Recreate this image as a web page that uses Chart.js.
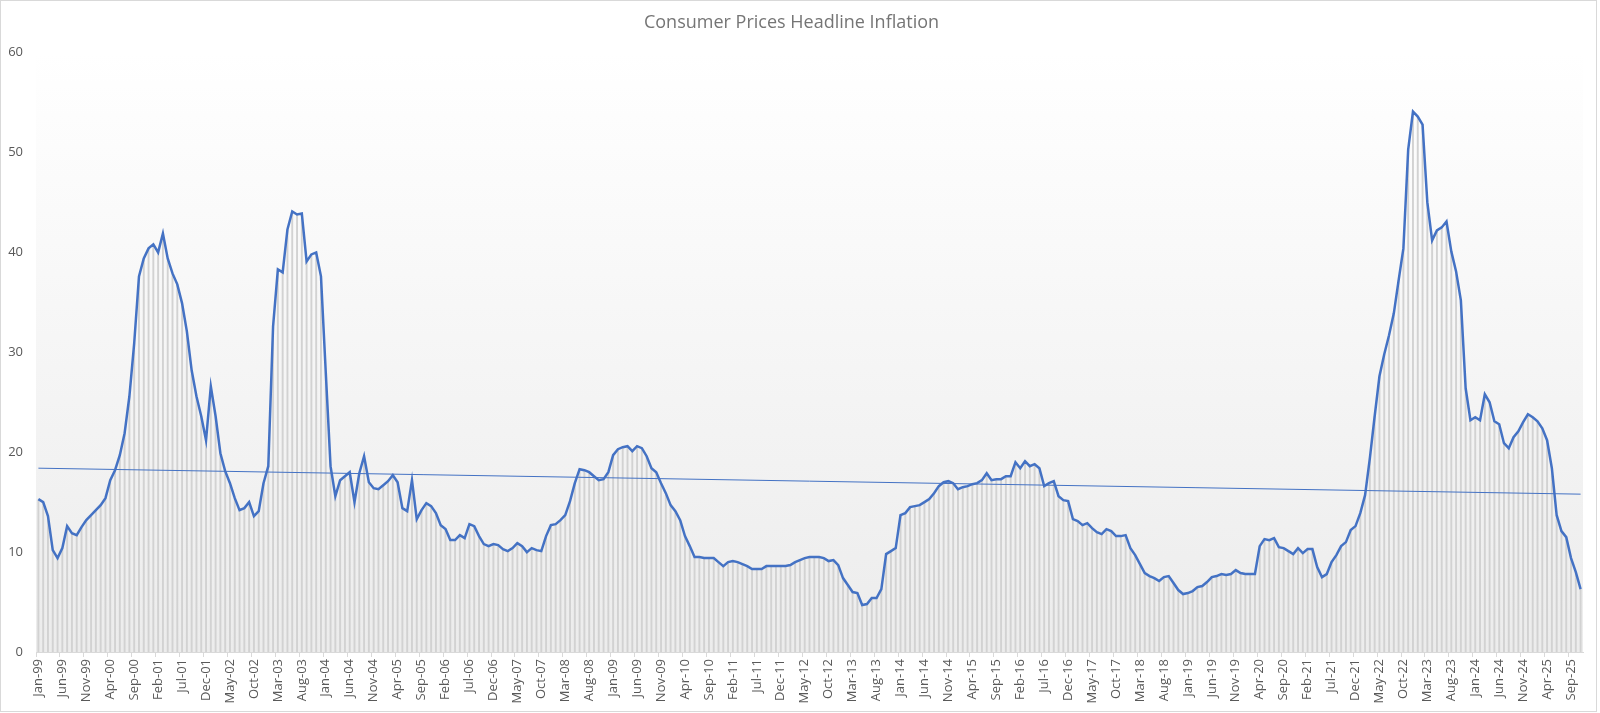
<!DOCTYPE html>
<html>
<head>
<meta charset="utf-8">
<title>Consumer Prices Headline Inflation</title>
<script src="https://cdn.jsdelivr.net/npm/chart.js@4.4.1/dist/chart.umd.min.js"></script>
<style>
  html, body { margin: 0; padding: 0; background: #ffffff; }
  #wrap { position: relative; width: 1600px; height: 713px; }
</style>
</head>
<body>
<div id="wrap"><canvas id="inflationChart"></canvas></div>
<script>
// month names and year range used to build the category labels (Jan-99 ... Nov-25)
const monthNames = ['Jan', 'Feb', 'Mar', 'Apr', 'May', 'Jun', 'Jul', 'Aug', 'Sep', 'Oct', 'Nov', 'Dec'];
const firstYear = 1999;
const lastYear = 2025;
const lastMonth = 11; // Nov-25 is the last reading

// headline inflation, % y/y, one row per year
const inflation = [
  15.3, 15.0, 13.6, 10.2, 9.4, 10.4, 12.6, 11.9, 11.7, 12.5, 13.2, 13.7,   // 1999
  14.2, 14.7, 15.4, 17.2, 18.2, 19.7, 21.9, 25.6, 30.9, 37.6, 39.4, 40.4,  // 2000
  40.8, 40.0, 41.9, 39.4, 37.9, 36.8, 34.9, 32.1, 28.2, 25.6, 23.6, 21.2,  // 2001
  26.6, 23.6, 19.9, 18.1, 16.9, 15.4, 14.2, 14.4, 15.0, 13.6, 14.1, 16.9,  // 2002
  18.6, 32.6, 38.3, 38.0, 42.3, 44.1, 43.8, 43.9, 39.1, 39.8, 40.0, 37.6,  // 2003
  28.0, 18.6, 15.6, 17.2, 17.6, 18.0, 15.0, 17.9, 19.6, 17.0, 16.4, 16.3,  // 2004
  16.7, 17.1, 17.7, 17.0, 14.4, 14.1, 17.2, 13.3, 14.2, 14.9, 14.6, 13.9,  // 2005
  12.7, 12.3, 11.2, 11.2, 11.7, 11.4, 12.8, 12.6, 11.6, 10.8, 10.6, 10.8,  // 2006
  10.7, 10.3, 10.1, 10.4, 10.9, 10.6, 10.0, 10.4, 10.2, 10.1, 11.6, 12.7,  // 2007
  12.8, 13.2, 13.7, 15.1, 16.9, 18.3, 18.2, 18.0, 17.6, 17.2, 17.3, 18.0,  // 2008
  19.7, 20.3, 20.5, 20.6, 20.1, 20.6, 20.4, 19.6, 18.4, 18.0, 16.9, 15.9,  // 2009
  14.7, 14.1, 13.2, 11.6, 10.6, 9.5, 9.5, 9.4, 9.4, 9.4, 9.0, 8.6,         // 2010
  9.0, 9.1, 9.0, 8.8, 8.6, 8.3, 8.3, 8.3, 8.6, 8.6, 8.6, 8.6,              // 2011
  8.6, 8.7, 9.0, 9.2, 9.4, 9.5, 9.5, 9.5, 9.4, 9.1, 9.2, 8.7,              // 2012
  7.4, 6.7, 6.0, 5.9, 4.7, 4.8, 5.4, 5.4, 6.3, 9.8, 10.1, 10.4,            // 2013
  13.7, 13.9, 14.5, 14.6, 14.7, 15.0, 15.3, 15.9, 16.6, 17.0, 17.1, 16.9,  // 2014
  16.3, 16.5, 16.6, 16.8, 16.9, 17.2, 17.9, 17.2, 17.3, 17.3, 17.6, 17.6,  // 2015
  19.0, 18.4, 19.1, 18.6, 18.8, 18.4, 16.6, 16.9, 17.1, 15.6, 15.2, 15.1,  // 2016
  13.3, 13.1, 12.7, 12.9, 12.4, 12.0, 11.8, 12.3, 12.1, 11.6, 11.6, 11.7,  // 2017
  10.4, 9.7, 8.8, 7.9, 7.6, 7.4, 7.1, 7.5, 7.6, 6.9, 6.2, 5.8,             // 2018
  5.9, 6.1, 6.5, 6.6, 7.0, 7.5, 7.6, 7.8, 7.7, 7.8, 8.2, 7.9,              // 2019
  7.8, 7.8, 7.8, 10.6, 11.3, 11.2, 11.4, 10.5, 10.4, 10.1, 9.8, 10.4,      // 2020
  9.9, 10.3, 10.3, 8.5, 7.5, 7.8, 9.0, 9.7, 10.6, 11.0, 12.2, 12.6,        // 2021
  13.9, 15.7, 19.4, 23.6, 27.6, 29.8, 31.7, 33.9, 37.2, 40.4, 50.3, 54.1,  // 2022
  53.6, 52.8, 45.0, 41.2, 42.2, 42.5, 43.1, 40.1, 38.1, 35.2, 26.4, 23.2,  // 2023
  23.5, 23.2, 25.8, 25.0, 23.1, 22.8, 20.9, 20.4, 21.5, 22.1, 23.0, 23.8,  // 2024
  23.5, 23.1, 22.4, 21.2, 18.4, 13.7, 12.1, 11.5, 9.4, 8.0, 6.3            // 2025
];

// linear trend line, value at the first and last month
const trendEnds = [18.4, 15.8];

// y axis ticks
const yTicks = [0, 10, 20, 30, 40, 50, 60];
const labelEvery = 5; // an x label every 5 months

// build the month labels
const labels = [];
for (let y = firstYear; y <= lastYear; y++) {
  const endM = (y === lastYear) ? lastMonth : 12;
  for (let m = 0; m < endM; m++) {
    labels.push(monthNames[m] + '-' + String(y).slice(2));
  }
}

// trend series only has its two end points, the line spans the gap
const trend = labels.map(() => null);
trend[0] = trendEnds[0];
trend[trend.length - 1] = trendEnds[1];

// light gradient behind the plot area, and the thin outer frame
const plotBackground = {
  id: 'plotBackground',
  beforeDraw(chart) {
    const { ctx, chartArea } = chart;
    if (!chartArea) return;
    const g = ctx.createLinearGradient(0, chartArea.top, 0, chartArea.bottom);
    g.addColorStop(0, '#ffffff');
    g.addColorStop(1, '#ececec');
    ctx.save();
    ctx.fillStyle = g;
    ctx.fillRect(chartArea.left, chartArea.top, chartArea.right - chartArea.left, chartArea.bottom - chartArea.top);
    ctx.restore();
  },
  afterDraw(chart) {
    const ctx = chart.ctx;
    ctx.save();
    ctx.strokeStyle = '#d9d9d9';
    ctx.lineWidth = 1;
    ctx.strokeRect(0.5, 0.5, 1596, 711);
    ctx.restore();
  }
};

const ctx = document.getElementById('inflationChart').getContext('2d');
const myChart = new Chart(ctx, {
  type: 'bar',
  data: {
    labels: labels,
    datasets: [
      {
        type: 'line',
        label: 'Headline inflation',
        data: inflation,
        borderColor: '#4472C4',
        borderWidth: 2.5,
        pointRadius: 0,
        tension: 0,
        fill: false,
        order: 0
      },
      {
        type: 'line',
        label: 'Linear trend',
        data: trend,
        borderColor: '#4472C4',
        borderWidth: 1,
        pointRadius: 0,
        spanGaps: true,
        fill: false,
        order: 1
      },
      {
        type: 'bar',
        label: 'Columns',
        data: inflation,
        backgroundColor: '#d2d2d2',
        barPercentage: 0.4,
        categoryPercentage: 1.0,
        order: 2
      }
    ]
  },
  options: {
    responsive: true,
    maintainAspectRatio: false,
    animation: false,
    devicePixelRatio: 1,
    layout: {
      padding: { left: 0, right: 17, top: 0, bottom: 0 }
    },
    plugins: {
      legend: { display: false },
      tooltip: { enabled: false },
      title: {
        display: true,
        text: 'Consumer Prices Headline Inflation',
        color: '#757575',
        font: { family: '"Open Sans", sans-serif', size: 18, weight: 'normal' },
        padding: { top: 12, bottom: 19 }
      }
    },
    scales: {
      x: {
        offset: true,
        grid: {
          display: true,
          offset: true,
          drawOnChartArea: false,
          drawTicks: true,
          tickLength: 5,
          color: (c) => (c.index % labelEvery === 0 ? '#d9d9d9' : 'rgba(0,0,0,0)')
        },
        border: { display: true, color: '#d9d9d9', width: 1 },
        ticks: {
          autoSkip: false,
          minRotation: 90,
          maxRotation: 90,
          padding: 2,
          color: '#595959',
          font: { family: '"Open Sans", sans-serif', size: 13 },
          callback: function(value, index) {
            return index % labelEvery === 0 ? labels[index] : '';
          }
        },
        afterFit: function(scale) { scale.height = 61; }
      },
      y: {
        min: yTicks[0],
        max: yTicks[yTicks.length - 1],
        grid: { display: false, drawTicks: false },
        border: { display: false },
        ticks: {
          stepSize: yTicks[1] - yTicks[0],
          padding: 13,
          color: '#595959',
          font: { family: '"Open Sans", sans-serif', size: 13 }
        },
        afterFit: function(scale) { scale.width = 36; }
      }
    }
  },
  plugins: [plotBackground]
});
</script>
</body>
</html>
